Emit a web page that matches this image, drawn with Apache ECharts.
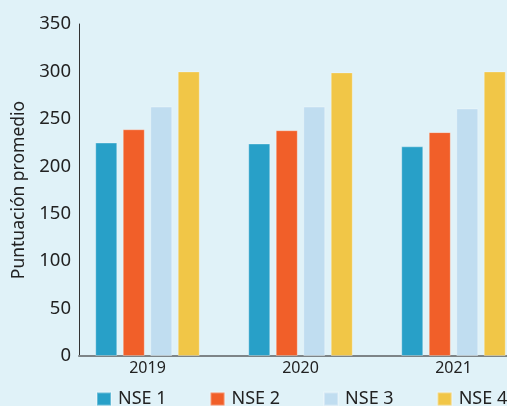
<!DOCTYPE html>
<html>
<head>
<meta charset="utf-8">
<script src="https://cdn.jsdelivr.net/npm/echarts@6/dist/echarts.min.js"></script>
<style>
html,body{margin:0;padding:0;background:#e0f2f8;overflow:hidden;width:507px;height:406px;}
#chart{width:560px;height:406px;}
</style>
</head>
<body>
<div id="chart"></div>
<script>
var categories = ['2019', '2020', '2021'];
var seriesNames = ['NSE 1', 'NSE 2', 'NSE 3', 'NSE 4'];
var nse1 = [225, 224, 221];
var nse2 = [239, 238, 236];
var nse3 = [263, 263, 261];
var nse4 = [300, 299, 300];
var yTicks = [0, 50, 100, 150, 200, 250, 300, 350];
var yTitle = 'Puntuación promedio';

var colors = ['#28a0c8', '#f15f29', '#c0ddf0', '#f1c647'];
var values = [nse1, nse2, nse3, nse4];
var FONT = 'Noto Sans';

var chart = echarts.init(document.getElementById('chart'));
chart.setOption({
  backgroundColor: '#e0f2f8',
  animation: false,
  textStyle: { fontFamily: FONT },
  legend: {
    data: seriesNames,
    left: 91,
    top: 385,
    itemWidth: 14,
    itemHeight: 13,
    itemGap: 43,
    icon: 'rect',
    textStyle: { fontFamily: FONT, fontSize: 18, color: '#222', width: 50, padding: [0, 0, 0, 2] }
  },
  grid: [
    { left: 71, top: 24, width: 459, bottom: 50, containLabel: false },
    { left: 79, top: 24, right: 0, bottom: 50, containLabel: false }
  ],
  xAxis: [
    {
      type: 'category', gridIndex: 0, data: categories,
      axisLine: { show: false }, axisTick: { show: false },
      axisLabel: { fontFamily: FONT, fontSize: 16, color: '#222', margin: 4 }
    },
    {
      type: 'value', gridIndex: 1, min: 0, max: 1,
      axisLine: { show: true, lineStyle: { color: '#7d8487', width: 2 } },
      axisTick: { show: false }, axisLabel: { show: false }, splitLine: { show: false }
    }
  ],
  yAxis: [
    {
      type: 'value', gridIndex: 0, min: yTicks[0], max: yTicks[yTicks.length - 1], interval: 50,
      show: false, splitLine: { show: false }
    },
    {
      type: 'value', gridIndex: 1, min: yTicks[0], max: yTicks[yTicks.length - 1], interval: 50,
      name: yTitle, nameLocation: 'middle', nameGap: 51,
      nameTextStyle: { fontFamily: FONT, fontSize: 17.5, color: '#222' },
      axisLine: { show: true, lineStyle: { color: '#333', width: 1 } },
      axisTick: { show: false }, splitLine: { show: false },
      axisLabel: { fontFamily: FONT, fontSize: 18.5, color: '#222', margin: 8 }
    }
  ],
  series: seriesNames.map(function (n, i) {
    return {
      name: n, type: 'bar', xAxisIndex: 0, yAxisIndex: 0,
      data: values[i], barWidth: 22, barGap: '25%',
      itemStyle: { color: colors[i], borderColor: 'rgba(255,255,255,0.3)', borderWidth: 1 }
    };
  })
});
</script>
</body>
</html>
